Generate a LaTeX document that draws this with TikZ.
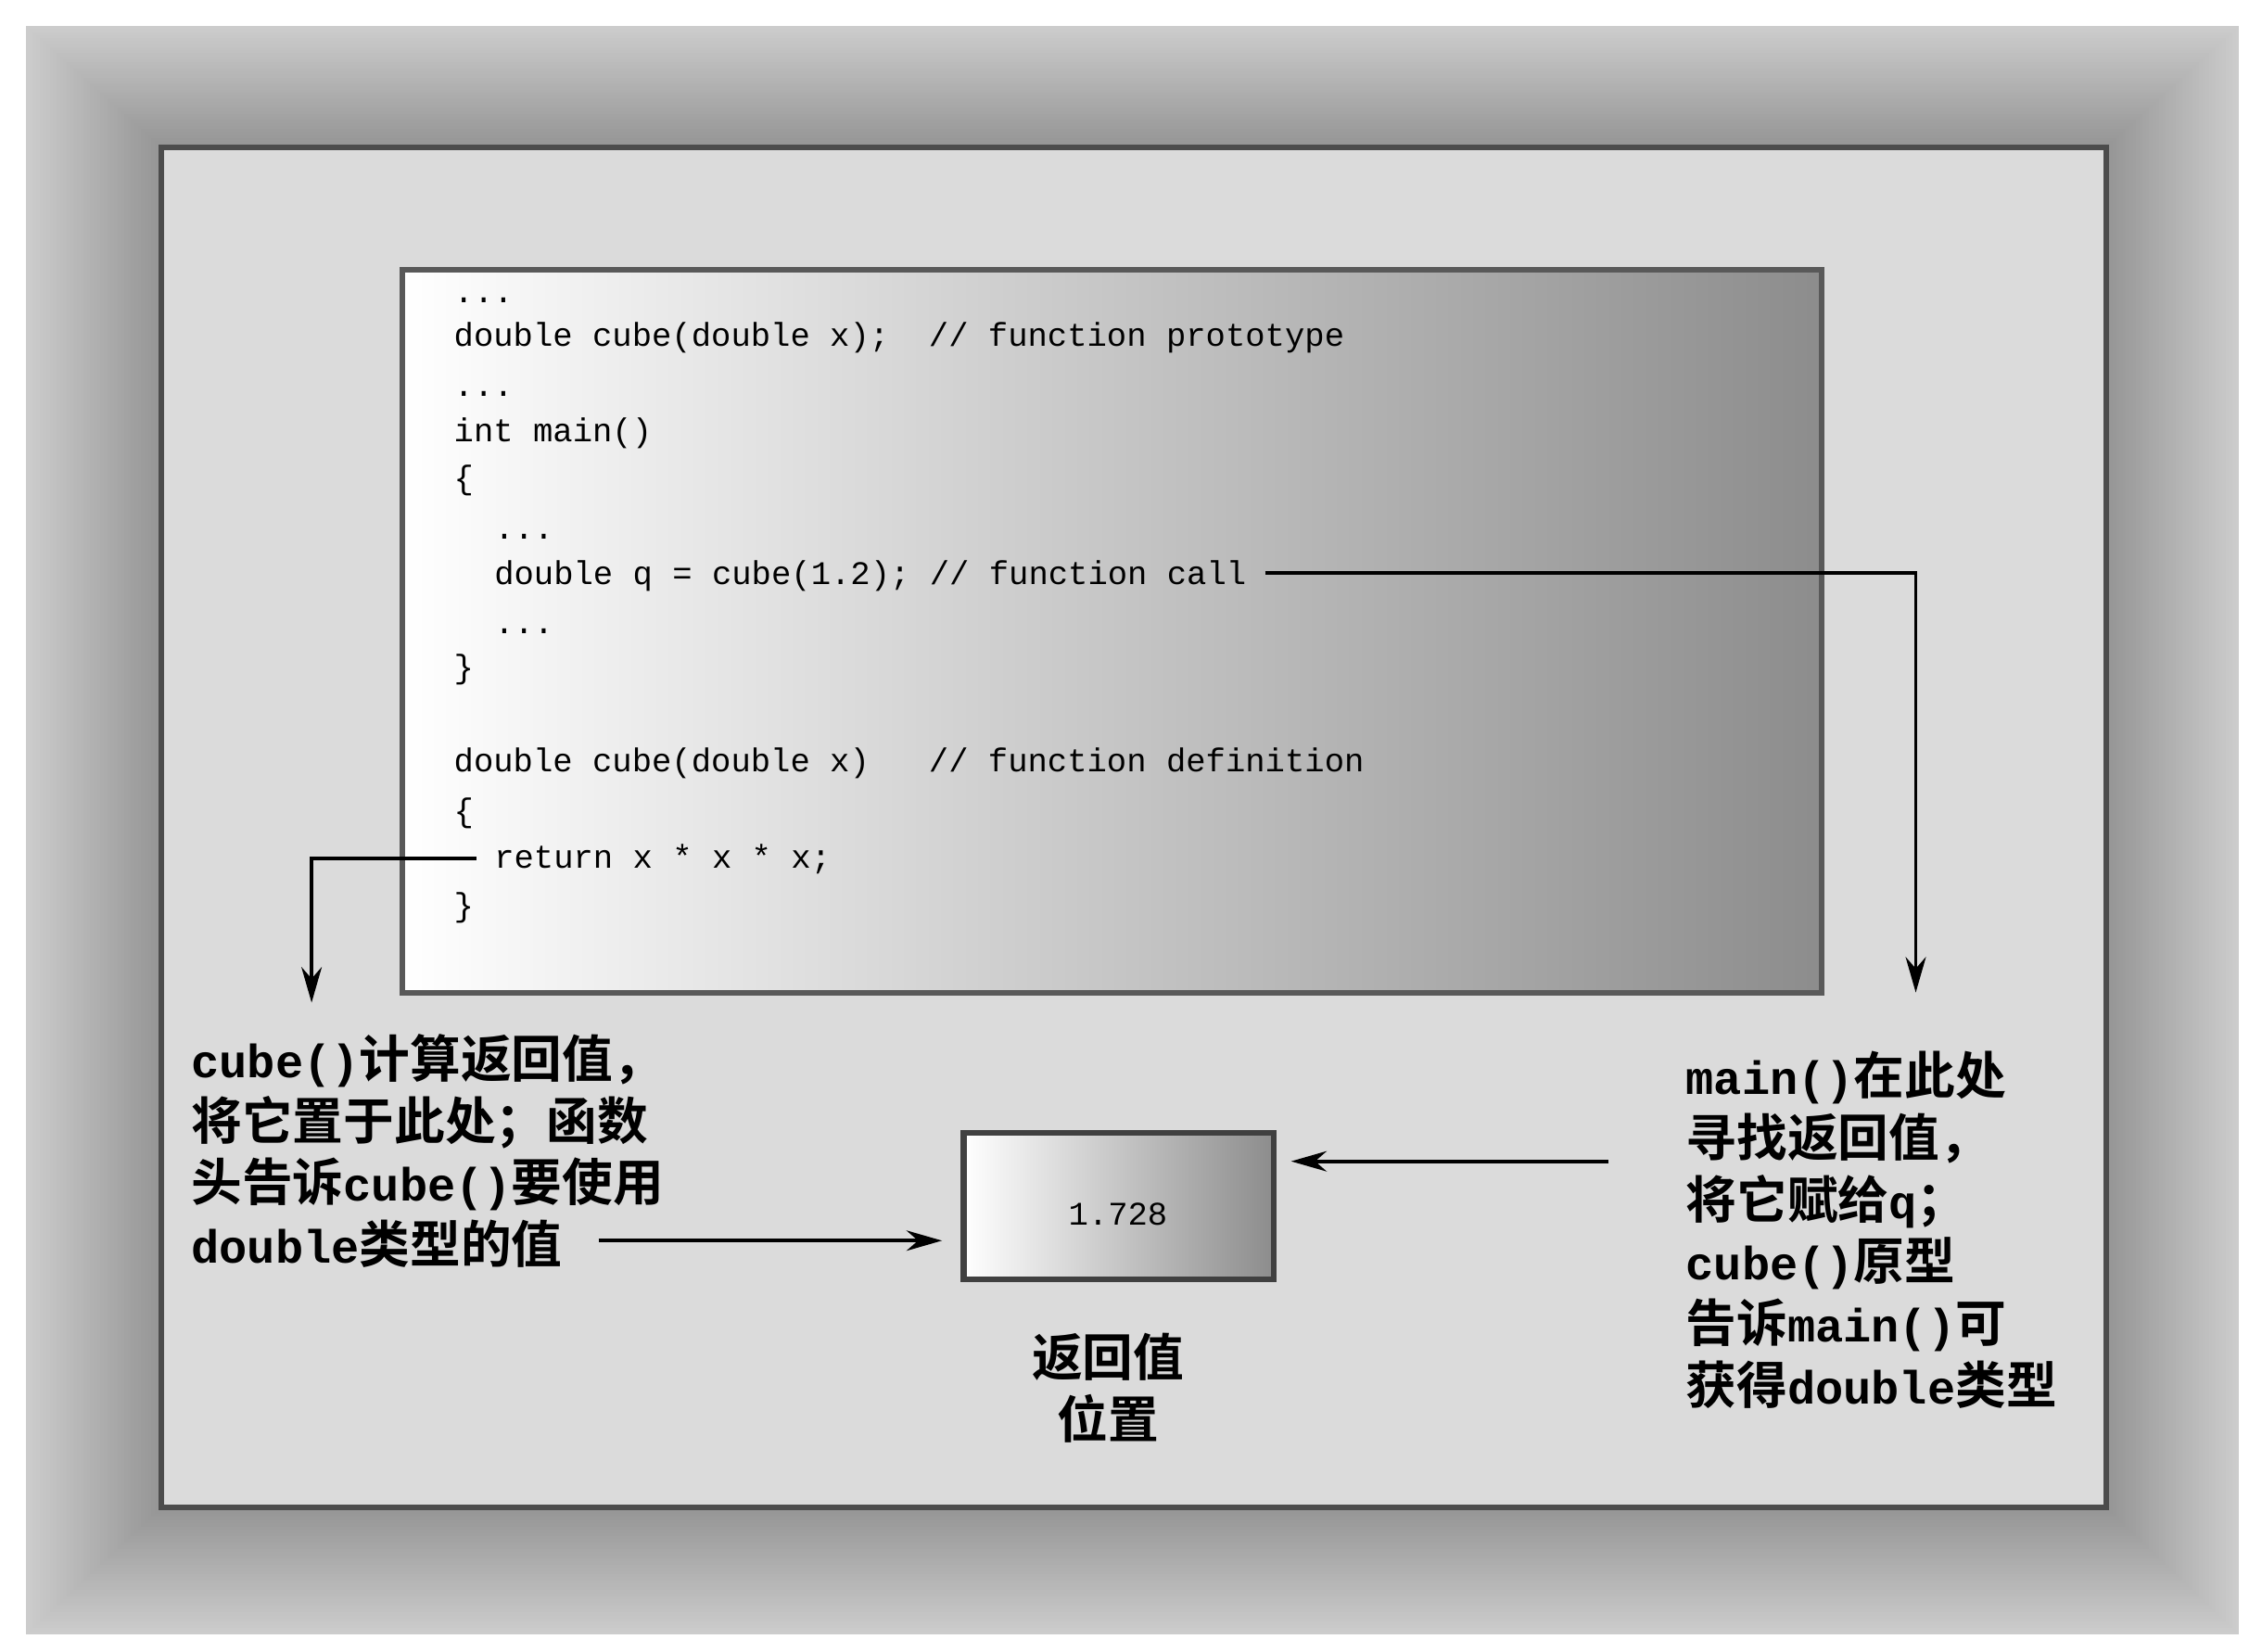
\documentclass[tikz,border=0pt]{standalone}
\usetikzlibrary{arrows.meta}
\usepackage{fontspec}
\newfontfamily\cjk{Noto Sans CJK SC Bold}
\newfontfamily\cmono{Liberation Mono}
\newfontfamily\lmono[Scale=0.92]{Liberation Mono Bold}
\newcommand{\lt}[1]{{\lmono #1}}
\begin{document}
\begin{tikzpicture}[x=0.01cm,y=-0.01cm,
  code/.style={anchor=base west,inner sep=0,font=\cmono\fontsize{6.5}{7}\selectfont},
  lbl/.style={align=left,inner sep=0,font=\cjk\fontsize{10}{12.2}\selectfont},
  arr/.style={-{Stealth[length=7pt,width=4pt]},line width=0.7pt}]
\useasboundingbox (0,0) rectangle (1568,1145);
\fill[white] (0,0) rectangle (1568,1145);
\foreach \i in {0,...,39}{
  \pgfmathsetmacro\c{20+\i*0.55}
  \fill[black!\c] ({18+\i*2.35},{18+\i*2.1}) rectangle ({1552-\i*2.3},{1133-\i*2.2});
}
\fill[black!14] (112,102) rectangle (1460,1045);
\draw[line width=1.1pt,black!70] (112,102) rectangle (1460,1045);
\shade[left color=white,right color=black!45] (279,187) rectangle (1263,688);
\draw[line width=1.1pt,black!65] (279,187) rectangle (1263,688);
\node[code] (l1) at (314,210) {...};
\node[code] (l2) at (314,240) {double cube(double x);\ \ // function prototype};
\node[code] (l3) at (314,275) {...};
\node[code] (l4) at (314,306) {int main()};
\node[code] (l5) at (314,339) {\{};
\node[code] (l6) at (342,374) {...};
\node[code] (l7) at (342,405) {double q = cube(1.2); // function call};
\node[code] (l8) at (342,439) {...};
\node[code] (l9) at (314,470) {\}};
\node[code] (l10) at (314,535) {double cube(double x)\ \ \ // function definition};
\node[code] (l11) at (314,570) {\{};
\node[code] (l12) at (342,602) {return x * x * x;};
\node[code] (l13) at (314,635) {\}};
\coordinate (c1) at (877,397);
\coordinate (c2) at (1328,688);
\draw[arr] (c1) -| (c2);
\coordinate (r1) at (330,595);
\coordinate (r2) at (216,695);
\draw[arr] (r1) -| (r2);
\shade[left color=white,right color=black!45] (668,785) rectangle (883,887);
\draw[line width=1.1pt,black!75] (668,785) rectangle (883,887);
\node[inner sep=0,font=\cmono\fontsize{6.5}{7}\selectfont] (val) at (775,842) {1.728};
\node[lbl,align=center] (loc) at (768,962) {返回值\\位置};
\node[lbl,anchor=north west] (left) at (132,716) {\lt{cube()}计算返回值，\\将它置于此处；函数\\头告诉\lt{cube()}要使用\\\lt{double}类型的值};
\node[lbl,anchor=north west] (right) at (1168,728) {\lt{main()}在此处\\寻找返回值，\\将它赋给\lt{q}；\\\lt{cube()}原型\\告诉\lt{main()}可\\获得\lt{double}类型};
\coordinate (a1) at (1115,805);
\coordinate (a2) at (895,805);
\draw[arr] (a1) -- (a2);
\coordinate (b1) at (415,860);
\coordinate (b2) at (653,860);
\draw[arr] (b1) -- (b2);
\end{tikzpicture}
\end{document}
